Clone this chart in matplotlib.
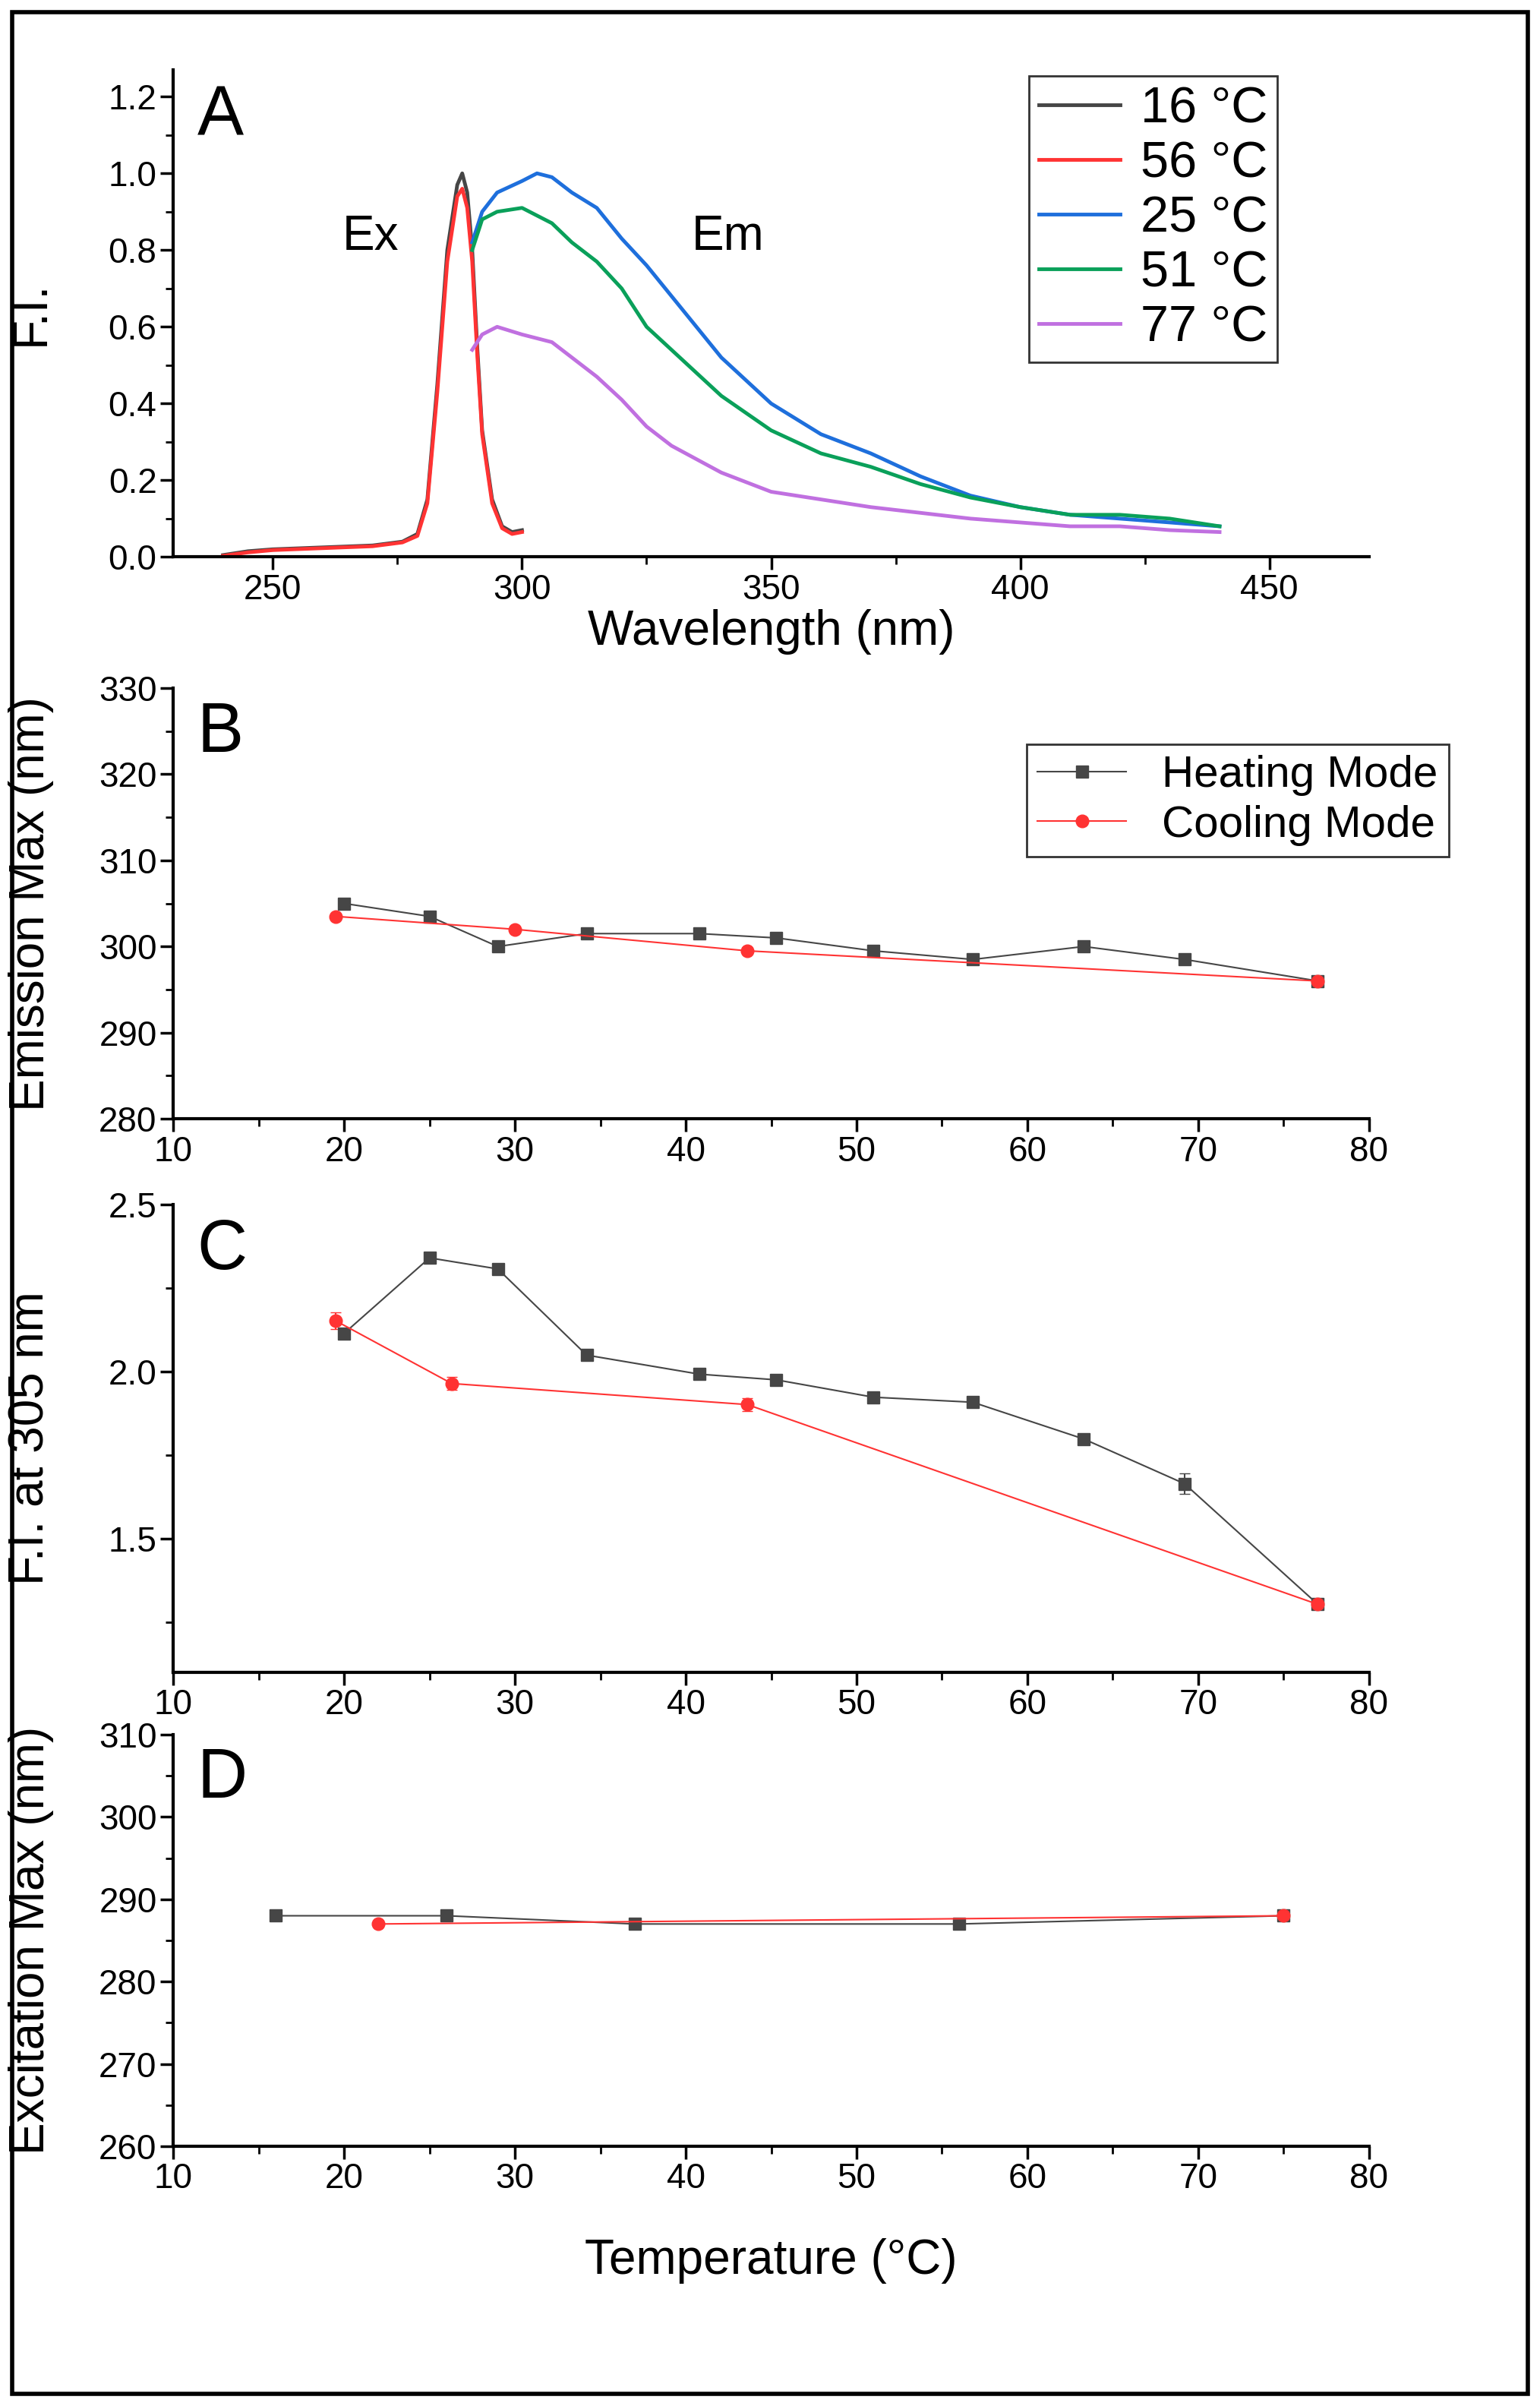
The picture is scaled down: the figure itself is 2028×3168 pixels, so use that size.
import matplotlib
matplotlib.use('Agg')
import matplotlib.pyplot as plt
from matplotlib.ticker import MultipleLocator, AutoMinorLocator
from matplotlib.patches import Rectangle

plt.rcParams['font.family'] = ['Liberation Sans', 'DejaVu Sans']

# ---- Panel A: spectra ----
ex_wl = [240, 245, 250, 260, 270, 276, 279, 281, 283, 285, 287, 288, 289, 290, 291, 292, 294, 296, 298, 300]
ex_16 = [0.005, 0.015, 0.02, 0.025, 0.03, 0.04, 0.06, 0.15, 0.45, 0.8, 0.97, 1.0, 0.95, 0.8, 0.55, 0.33, 0.15, 0.08, 0.065, 0.07]
ex_56 = [0.003, 0.012, 0.018, 0.023, 0.028, 0.038, 0.055, 0.14, 0.43, 0.77, 0.94, 0.96, 0.91, 0.77, 0.53, 0.32, 0.14, 0.075, 0.06, 0.065]

em_wl = [290, 292, 295, 300, 303, 306, 310, 315, 320, 325, 330, 340, 350, 360, 370, 380, 390, 400, 410, 420, 430, 440]
em_25 = [0.82, 0.9, 0.95, 0.98, 1.0, 0.99, 0.95, 0.91, 0.83, 0.76, 0.68, 0.52, 0.40, 0.32, 0.27, 0.21, 0.16, 0.13, 0.11, 0.10, 0.09, 0.08]
em_51 = [0.80, 0.88, 0.90, 0.91, 0.89, 0.87, 0.82, 0.77, 0.70, 0.60, 0.54, 0.42, 0.33, 0.27, 0.235, 0.19, 0.155, 0.13, 0.11, 0.11, 0.10, 0.08]
em_77 = [0.54, 0.58, 0.60, 0.58, 0.57, 0.56, 0.52, 0.47, 0.41, 0.34, 0.29, 0.22, 0.17, 0.15, 0.13, 0.115, 0.10, 0.09, 0.08, 0.08, 0.07, 0.065]

# ---- Panel B: emission max ----
heat_T_B = [20, 25, 29, 34.2, 40.8, 45.3, 51, 56.8, 63.3, 69.2, 77]
heat_B = [305, 303.5, 300, 301.5, 301.5, 301, 299.5, 298.5, 300, 298.5, 296]
cool_T_B = [19.5, 30, 43.6, 77]
cool_B = [303.5, 302, 299.5, 296]

# ---- Panel C: F.I. at 305 nm ----
heat_T_C = [20, 25, 29, 34.2, 40.8, 45.3, 51, 56.8, 63.3, 69.2, 77]
heat_C = [2.114, 2.34, 2.307, 2.049, 1.992, 1.975, 1.923, 1.908, 1.798, 1.664, 1.303]
heat_C_err = [0.01, 0.01, 0.01, 0.01, 0.01, 0.01, 0.01, 0.01, 0.01, 0.03, 0.01]
cool_T_C = [19.5, 26.3, 43.6, 77]
cool_C = [2.152, 1.964, 1.901, 1.303]
cool_C_err = [0.025, 0.02, 0.02, 0.01]

# ---- Panel D: excitation max ----
heat_T_D = [16, 26, 37, 56, 75]
heat_D = [288, 288, 287, 287, 288]
cool_T_D = [22, 75]
cool_D = [287, 288]

BLACK = '#464646'
RED = '#ff3333'
TICK = 33
LAB = 46

fig = plt.figure(figsize=(20.28, 31.68), dpi=100)
L, W = 0.1125, 0.7765
axA = fig.add_axes([L, 0.7685, W, 0.2025])
axB = fig.add_axes([L, 0.535, W, 0.179])
axC = fig.add_axes([L, 0.305, W, 0.1944])
axD = fig.add_axes([L, 0.108, W, 0.171])

def style(ax):
    for s in ['top', 'right']:
        ax.spines[s].set_visible(False)
    for s in ['left', 'bottom']:
        ax.spines[s].set_linewidth(3)
    ax.tick_params(which='major', direction='out', length=12, width=2.5, labelsize=TICK)
    ax.tick_params(which='minor', direction='out', length=7, width=2)
    ax.xaxis.set_minor_locator(AutoMinorLocator(2))
    ax.yaxis.set_minor_locator(AutoMinorLocator(2))

# A
axA.plot(ex_wl, ex_16, color=BLACK, lw=3.5, label='16 °C')
axA.plot(ex_wl, ex_56, color=RED, lw=3.5, label='56 °C')
axA.plot(em_wl, em_25, color='#1e6fdc', lw=3.5, label='25 °C')
axA.plot(em_wl, em_51, color='#0aa05a', lw=3.5, label='51 °C')
axA.plot(em_wl, em_77, color='#c070e0', lw=3.5, label='77 °C')
axA.set_xlim(230, 470)
axA.set_ylim(0, 1.27)
axA.xaxis.set_major_locator(MultipleLocator(50))
axA.yaxis.set_major_locator(MultipleLocator(0.2))
axA.yaxis.set_major_formatter(matplotlib.ticker.FormatStrFormatter('%.1f'))
style(axA)
axA.set_xlabel('Wavelength (nm)', fontsize=LAB, labelpad=2)
axA.set_ylabel('F.I.', fontsize=LAB)
axA.text(0.02, 0.97, 'A', transform=axA.transAxes, fontsize=66, va='top')
axA.text(264, 0.8, 'Ex', fontsize=46)
axA.text(334, 0.8, 'Em', fontsize=46)
fig.legend(*axA.get_legend_handles_labels(), loc='upper right', bbox_to_anchor=(0.846, 0.979),
           fontsize=48, frameon=True, fancybox=False, edgecolor='black', handlelength=1.6,
           labelspacing=0.15, borderpad=0.2, handletextpad=0.4).get_frame().set_linewidth(2)

# B
axB.plot(heat_T_B, heat_B, color=BLACK, lw=1.5, marker='s', ms=12, label='Heating Mode')
axB.plot(cool_T_B, cool_B, color=RED, lw=1.5, marker='o', ms=12, label='Cooling Mode')
axB.set_xlim(10, 80)
axB.set_ylim(280, 330)
axB.xaxis.set_major_locator(MultipleLocator(10))
axB.yaxis.set_major_locator(MultipleLocator(10))
style(axB)
axB.set_ylabel('Emission Max (nm)', fontsize=LAB)
axB.text(0.02, 0.97, 'B', transform=axB.transAxes, fontsize=66, va='top')
fig.legend(*axB.get_legend_handles_labels(), loc='upper right', bbox_to_anchor=(0.955, 0.7),
           fontsize=42, frameon=True, fancybox=False, edgecolor='black', handlelength=2.0,
           labelspacing=0.2, borderpad=0.25).get_frame().set_linewidth(2)

# C
axC.errorbar(heat_T_C, heat_C, yerr=heat_C_err, color=BLACK, lw=1.5, marker='s', ms=12, capsize=5)
axC.errorbar(cool_T_C, cool_C, yerr=cool_C_err, color=RED, lw=1.5, marker='o', ms=12, capsize=5)
axC.set_xlim(10, 80)
axC.set_ylim(1.1, 2.5)
axC.xaxis.set_major_locator(MultipleLocator(10))
axC.yaxis.set_major_locator(MultipleLocator(0.5))
axC.yaxis.set_major_formatter(matplotlib.ticker.FormatStrFormatter('%.1f'))
style(axC)
axC.set_ylabel('F.I. at 305 nm', fontsize=LAB)
axC.text(0.02, 0.97, 'C', transform=axC.transAxes, fontsize=66, va='top')

# D
axD.plot(heat_T_D, heat_D, color=BLACK, lw=1.5, marker='s', ms=12)
axD.plot(cool_T_D, cool_D, color=RED, lw=1.5, marker='o', ms=12)
axD.set_xlim(10, 80)
axD.set_ylim(260, 310)
axD.xaxis.set_major_locator(MultipleLocator(10))
axD.yaxis.set_major_locator(MultipleLocator(10))
style(axD)
axD.set_ylabel('Excitation Max (nm)', fontsize=LAB)
axD.set_xlabel('Temperature (°C)', fontsize=LAB, labelpad=40)
axD.text(0.02, 0.97, 'D', transform=axD.transAxes, fontsize=66, va='top')

for ax in (axA, axB, axC, axD):
    ax.yaxis.set_label_coords(-0.1, 0.5)

fig.patches.append(Rectangle((0.008, 0.005), 0.984, 0.99, transform=fig.transFigure,
                             fill=False, edgecolor='black', linewidth=4))

fig.savefig('out.png', dpi=100)
